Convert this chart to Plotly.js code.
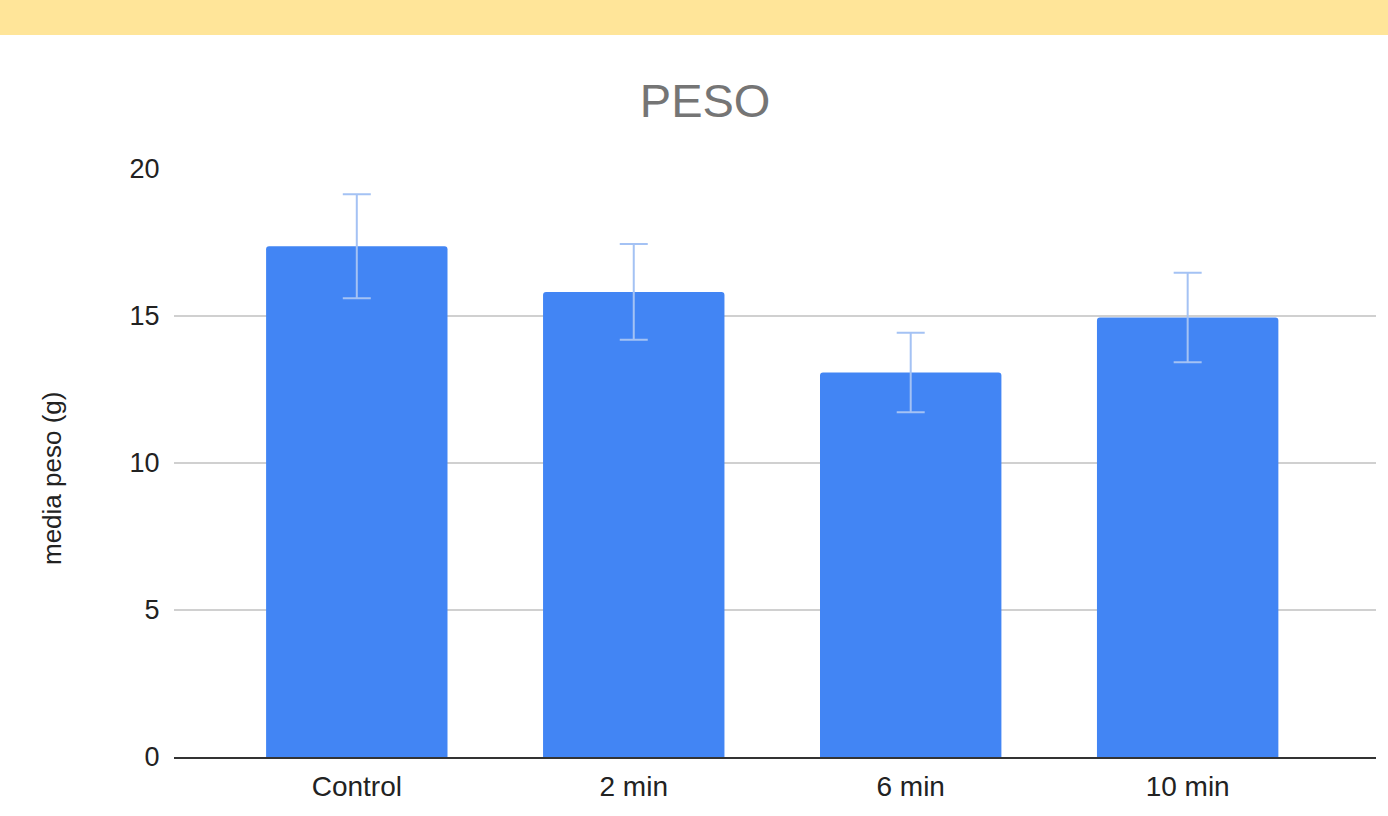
<!DOCTYPE html>
<html><head><meta charset="utf-8">
<script src="https://cdn.plot.ly/plotly-3.0.1.min.js"></script>
<style>
html,body{margin:0;padding:0;background:#fff;width:1388px;height:816px;overflow:hidden;}
#band{height:35px;background:#FFE599;width:1388px;}
#chart{width:1388px;height:781px;}
</style></head>
<body>
<div id="band"></div>
<div id="chart"></div>
<script>
const categories = ["Control", "2 min", "6 min", "10 min"];
const meanWeight = [17.37, 15.82, 13.08, 14.95];
const errorWeight = [1.77, 1.63, 1.35, 1.52];
const yTicks = [0, 5, 10, 15, 20];
const yTitle = 'media peso (g)';

const trace = {
  type: 'bar',
  x: categories,
  y: meanWeight,
  width: 0.655,
  marker: {color: '#4285F4', cornerradius: 3},
  error_y: {type: 'data', array: errorWeight, visible: true, color: '#A4C2F4', thickness: 2, width: 14},
  hoverinfo: 'none'
};

const layout = {
  width: 1388, height: 781,
  margin: {l: 174, r: 12, t: 134, b: 59},
  paper_bgcolor: '#fff', plot_bgcolor: '#fff',
  font: {family: 'Liberation Sans, Arial, sans-serif', color: '#222'},
  title: {text: 'PESO', font: {size: 47, color: '#757575', family: 'Liberation Sans, Arial, sans-serif'},
          x: 0.508, xanchor: 'center', y: 1 - 66/781, yanchor: 'middle', yref: 'container'},
  showlegend: false,
  xaxis: {
    range: [-0.66, 3.68], showgrid: false, zeroline: false,
    showline: true, linecolor: '#333', linewidth: 1.5,
    tickfont: {size: 28, color: '#222'}, ticks: 'outside', ticklen: 4, tickcolor: 'rgba(0,0,0,0)'
  },
  yaxis: {
    range: [0, 20], tickvals: yTicks, ticktext: yTicks.map(String),
    showgrid: true, gridcolor: '#D0D0D0', gridwidth: 1.5, zeroline: false, showline: false,
    tickfont: {size: 27, color: '#222'}, ticks: 'outside', ticklen: 8, tickcolor: 'rgba(0,0,0,0)'
  },
  annotations: [{
    text: yTitle, textangle: -90, showarrow: false,
    xref: 'paper', yref: 'paper', x: 0, xshift: -122, xanchor: 'center',
    y: 0.5, yshift: -16, yanchor: 'middle',
    font: {size: 26, color: '#222'}
  }]
};

Plotly.newPlot('chart', [trace], layout, {displayModeBar: false, staticPlot: true});
</script>
</body></html>
